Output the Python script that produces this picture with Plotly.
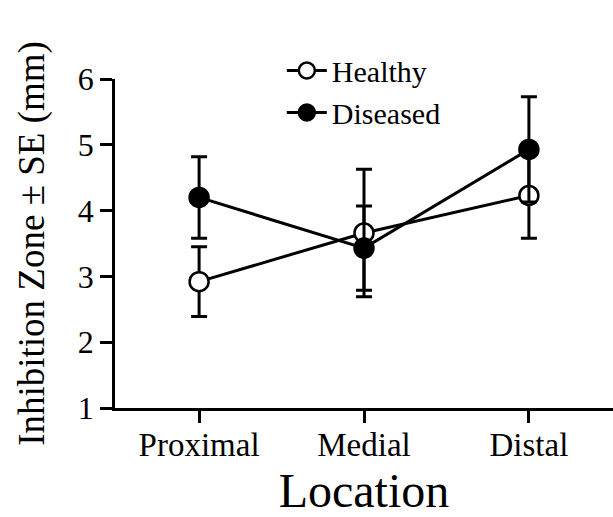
import plotly.graph_objects as go

categories = ["Proximal", "Medial", "Distal"]
healthy = [2.92, 3.66, 4.23]
healthy_se = [0.53, 0.97, 0.65]
diseased = [4.20, 3.43, 4.93]
diseased_se = [0.62, 0.64, 0.80]
y_ticks = [1, 2, 3, 4, 5, 6]

FONT = "Liberation Serif, Times New Roman, serif"

fig = go.Figure()
fig.add_trace(go.Scatter(
    x=categories, y=healthy, name="Healthy", mode="lines+markers",
    line=dict(color="black", width=3),
    marker=dict(size=19, color="white", line=dict(color="black", width=2.5)),
    error_y=dict(type="data", array=healthy_se, visible=True, color="black", thickness=3, width=8),
))
fig.add_trace(go.Scatter(
    x=categories, y=diseased, name="Diseased", mode="lines+markers",
    line=dict(color="black", width=3),
    marker=dict(size=19, color="black", line=dict(color="black", width=2.5)),
    error_y=dict(type="data", array=diseased_se, visible=True, color="black", thickness=3, width=8),
))

fig.update_layout(
    width=613, height=517,
    margin=dict(l=115, r=0, t=79, b=109, autoexpand=False),
    paper_bgcolor="white", plot_bgcolor="white",
    font=dict(family=FONT, color="black", size=32),
    showlegend=True,
    legend=dict(x=0.335, y=1.105, xanchor="left", yanchor="top",
                font=dict(size=30, family=FONT), bgcolor="rgba(0,0,0,0)",
                itemwidth=40, tracegroupgap=0),
    xaxis=dict(
        type="category", range=[-0.51, 2.51],
        showline=True, linecolor="black", linewidth=2.5,
        ticks="outside", ticklen=12, tickwidth=2.5, tickcolor="black",
        tickfont=dict(size=33, family=FONT), ticklabelstandoff=-6,
        showgrid=False, zeroline=False,
        title=dict(text="Location", font=dict(size=48, family=FONT), standoff=39),
        automargin=False,
    ),
    yaxis=dict(
        range=[1, 6], tickvals=y_ticks,
        showline=True, linecolor="black", linewidth=2.5,
        ticks="outside", ticklen=12, tickwidth=2.5, tickcolor="black",
        tickfont=dict(size=32, family=FONT),
        showgrid=False, zeroline=False,
        title=dict(text="Inhibition Zone ± SE (mm)", font=dict(size=37, family=FONT), standoff=22),
        automargin=False,
    ),
)

fig.write_html("out.html")
